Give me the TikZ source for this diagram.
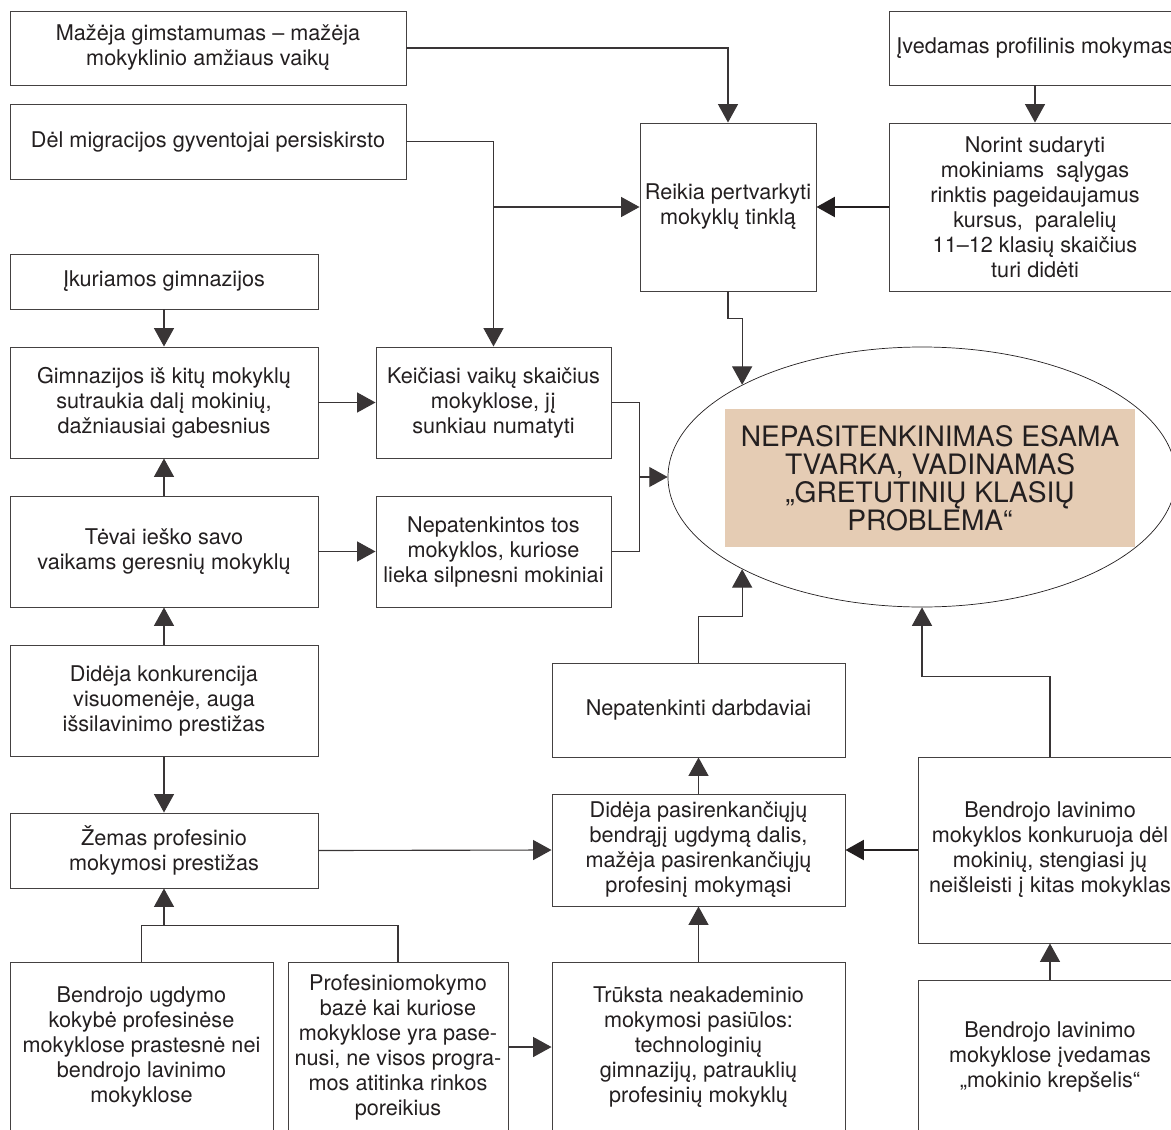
\documentclass[tikz,border=0pt]{standalone}
\usepackage{fontspec}
\setmainfont{TeX Gyre Heros}
\usetikzlibrary{arrows.meta,shapes.geometric}
\definecolor{ink}{HTML}{231F20}
\definecolor{tan}{HTML}{E5CCB4}
\begin{document}
\begin{tikzpicture}[x=0.25mm, y=-0.25mm, >={Triangle[length=4.6mm, width=5mm]},
	font=\fontsize{15.4}{17.8}\selectfont, text=ink,
	box/.style={draw=ink!85, line width=0.7pt, inner sep=0pt, align=center},
	sz/.style 2 args={minimum width=#1*0.25mm, minimum height=#2*0.25mm},
	arr/.style={->, draw=ink!90, line width=0.8pt},
	arrthick/.style={->, draw=ink, line width=1.5pt}]
	\useasboundingbox (0,0) rectangle (1171,1129);
	\clip (0,0) rectangle (1171,1129);
	% left column
	\node[box, sz={396}{74}] (gim) at (208,48) {Mažėja gimstamumas – mažėja\\mokyklinio amžiaus vaikų};
	\node[box, sz={396}{75}] (migr) at (208,141.5) {Dėl migracijos gyventojai persiskirsto};
	\node[box, sz={308}{55}] (ikur) at (164,281.5) {Įkuriamos gimnazijos};
	\node[box, sz={308}{111}] (sutr) at (164,402.5) {Gimnazijos iš kitų mokyklų\\sutraukia dalį mokinių,\\dažniausiai gabesnius};
	\node[box, sz={308}{111}] (tev) at (164,551.5) {Tėvai ieško savo\\vaikams geresnių mokyklų};
	\node[box, sz={308}{111}] (konk) at (164,700.5) {Didėja konkurencija\\visuomenėje, auga\\išsilavinimo prestižas};
	\node[box, sz={308}{75}] (zem) at (164,850.5) {Žemas profesinio\\mokymosi prestižas};
	\node[box, sz={263}{170}] (kok) at (141.5,1047) {Bendrojo ugdymo\\kokybė profesinėse\\mokyklose prastesnė nei\\bendrojo lavinimo\\mokyklose};
	\node[box, sz={220}{170}] (baz) at (398,1047) {Profesiniomokymo\\bazė kai kuriose\\mokyklose yra pase-\\nusi, ne visos progra-\\mos atitinka rinkos\\poreikius};
	% middle column
	\node[box, sz={235}{111}] (keic) at (493.5,402.5) {Keičiasi vaikų skaičius\\mokyklose, jį\\sunkiau numatyti};
	\node[box, sz={235}{111}] (nep) at (493.5,551.5) {Nepatenkintos tos\\mokyklos, kuriose\\lieka silpnesni mokiniai};
	\node[box, sz={176}{168}] (tinkl) at (728,207) {Reikia pertvarkyti\\mokyklų tinklą};
	\node[box, sz={293}{94}] (darb) at (698.5,710) {Nepatenkinti darbdaviai};
	\node[box, sz={293}{112}] (dal) at (698.5,850) {Didėja pasirenkančiųjų\\bendrąjį ugdymą dalis,\\mažėja pasirenkančiųjų\\profesinį mokymąsi};
	\node[box, sz={293}{170}] (trk) at (698.5,1047) {Trūksta neakademinio\\mokymosi pasiūlos:\\technologinių\\gimnazijų, patrauklių\\profesinių mokyklų};
	% right column
	\node[box, sz={292}{74}] (prof) at (1035,48) {Įvedamas profilinis mokymas};
	\node[box, sz={292}{168}] (kurs) at (1035,207) {Norint sudaryti\\mokiniams\ \ sąlygas\\rinktis pageidaujamus\\kursus,\ \ paralelių\\11–12 klasių skaičius\\turi didėti};
	\node[box, sz={264}{186}] (bl) at (1050,850) {Bendrojo lavinimo\\mokyklos konkuruoja dėl\\mokinių, stengiasi jų\\neišleisti į kitas mokyklas};
	\node[box, sz={264}{154}] (krep) at (1050,1057) {Bendrojo lavinimo\\mokyklose įvedamas\\„mokinio krepšelis“};
	% problem
	\node[ellipse, draw=ink, line width=0.5pt, inner sep=0pt, sz={508}{260}] (ell) at (922,477) {};
	\node[fill=tan, inner sep=0pt, align=center, sz={410}{138}, font=\fontsize{20}{20}\selectfont] (probl) at (930,478)
		{NEPASITENKINIMAS ESAMA\\TVARKA, VADINAMAS\\„GRETUTINIŲ KLASIŲ\\PROBLEMA“};
	\path (ell.west) ++(-28,0) coordinate (jung)
		(zem.south) ++(0,37) coordinate (sak);
	% connectors
	\draw[arr] (gim.east) -| (tinkl.north);
	\draw[arr] (migr.east) -| (keic.north);
	\draw[arr] (keic.north |- tinkl.west) -- (tinkl.west);
	\draw[arr] (prof) -- (kurs);
	\draw[arrthick] (kurs.west) -- (tinkl.east);
	\draw[arr] (tinkl.south) -- ++(0,27) -| (ell.north west);
	\draw[arr] (ikur) -- (sutr);
	\draw[arr] (sutr) -- (keic);
	\draw[arr] (tev) -- (sutr);
	\draw[arr] (tev) -- (nep);
	\draw[arr] (konk) -- (tev);
	\draw[arr] (konk) -- (zem);
	\draw[arr, -] (keic.east) -| (jung) |- (nep.east);
	\draw[arr] (jung) -- (ell.west);
	\draw[arr] (zem.east) -- (dal.west);
	\draw[arr, -] (kok.north) |- (sak) -| (baz.north);
	\draw[arr] (sak) -- (zem.south);
	\draw[arr] (baz.east) -- (trk.west);
	\draw[arr] (trk) -- (dal);
	\draw[arr] (dal) -- (darb);
	\draw[arr] (darb.north) -- ++(0,-46) -| (ell.south west);
	\draw[arr] (bl.north) -- ++(0,-80) -| (ell.south);
	\draw[arrthick] (bl.west) -- (dal.east);
	\draw[arr] (krep) -- (bl);
\end{tikzpicture}
\end{document}
